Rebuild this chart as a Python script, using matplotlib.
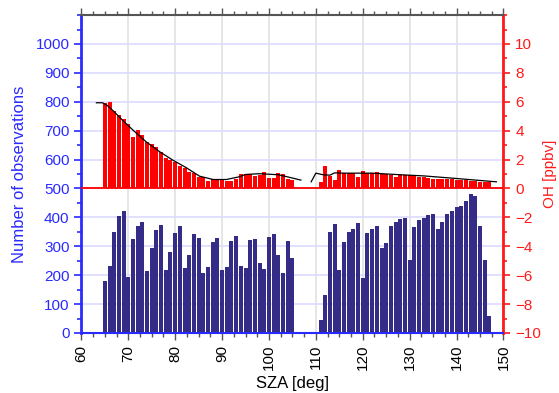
import numpy as np
import matplotlib
matplotlib.use("Agg")
import matplotlib.pyplot as plt
from matplotlib.ticker import MultipleLocator, FixedLocator

plt.rcParams['font.family'] = ['Liberation Sans', 'DejaVu Sans']

# SZA bins (deg), one bar per degree
sza = list(range(65, 148))

# number of observations per bin (zero where no data)
counts = [180, 232, 349, 405, 422, 194, 325, 370, 384, 215,
          294, 356, 374, 218, 280, 346, 370, 225, 270, 343,
          329, 208, 228, 315, 329, 218, 228, 318, 336, 232,
          225, 322, 325, 242, 221, 332, 343, 270, 208, 318,
          260, 0, 0, 0, 0, 0, 45, 131, 349, 377,
          218, 315, 349, 360, 381, 190, 346, 360, 370, 294,
          311, 370, 384, 394, 398, 253, 367, 391, 398, 408,
          412, 360, 384, 412, 422, 436, 439, 457, 481, 474,
          370, 253, 59]

# mean OH per bin (ppbv), nan where no data
nan = np.nan
oh = [5.93, 6.0, 5.37, 5.07, 4.78, 4.45, 3.55, 4.04, 3.69, 3.23,
      3.11, 2.88, 2.54, 2.08, 1.96, 1.85, 1.55, 1.45, 1.15, 1.08,
      0.76, 0.76, 0.53, 0.69, 0.69, 0.62, 0.53, 0.55, 0.68, 0.99,
      0.99, 0.99, 0.85, 0.92, 1.13, 0.72, 0.72, 1.06, 0.99, 0.65,
      0.58, nan, nan, nan, nan, nan, 0.44, 1.55, 0.85, 0.58,
      1.27, 1.06, 1.06, 1.06, 0.78, 1.2, 1.06, 1.06, 1.13, 0.99,
      0.99, 0.92, 0.78, 0.92, 0.92, 0.92, 0.85, 0.78, 0.78, 0.72,
      0.65, 0.65, 0.65, 0.65, 0.65, 0.58, 0.58, 0.58, 0.53, 0.53,
      0.46, 0.46, 0.46]

# smoothed OH curve, morning and evening branches
fit1_sza = [63.2, 64.5, 65.5, 66.8, 68.9, 71.0, 73.8, 76.7, 79.5, 82.3,
            85.2, 88.1, 90.9, 93.7, 95.0, 98.0, 102.0, 104.0, 106.8]
fit1_oh = [5.93, 5.93, 5.75, 5.37, 4.68, 4.04, 3.23, 2.54, 1.96, 1.45,
           0.85, 0.62, 0.62, 0.81, 0.97, 1.02, 0.95, 0.80, 0.58]
fit2_sza = [109.0, 110.0, 111.5, 113.0, 114.0, 116.0, 122.0, 128.0, 133.0, 140.0, 148.5]
fit2_oh = [0.46, 1.06, 0.95, 0.92, 1.08, 1.06, 1.06, 0.95, 0.87, 0.69, 0.46]

blue = '#2a2aff'
red = '#ff1a1a'

fig = plt.figure(figsize=(5.59, 3.93), dpi=100)
ax = fig.add_axes([0.1456, 0.1527, 0.755, 0.809])
ax2 = ax.twinx()

ax.set_axisbelow(True)
ax.bar(sza, counts, width=0.85, color='#342c86', zorder=2)
ax2.bar(sza, oh, width=0.85, color='#ff0000', zorder=2)
ax2.axhline(0, color='#ff0000', lw=1.3, zorder=3)
ax2.plot(fit1_sza, fit1_oh, color='black', lw=0.9, zorder=4)
ax2.plot(fit2_sza, fit2_oh, color='black', lw=0.9, zorder=4)

ax.set_xlim(60, 150)
ax.set_ylim(0, 1100)
ax2.set_ylim(-10, 12)

ax.xaxis.set_major_locator(MultipleLocator(10))
ax.xaxis.set_minor_locator(MultipleLocator(2.5))
ax.yaxis.set_major_locator(FixedLocator(list(range(0, 1001, 100))))
ax.yaxis.set_minor_locator(MultipleLocator(50))
ax2.yaxis.set_major_locator(FixedLocator(list(range(-10, 11, 2))))
ax2.yaxis.set_minor_locator(MultipleLocator(1))

ax.grid(axis='x', which='major', color='#e2e2e2', lw=1.2)
ax.grid(axis='y', which='major', color='#dcdcff', lw=1.2)

ax.tick_params(axis='x', which='both', top=True, direction='out', colors='#555555',
               labelcolor='black', labelsize=11, labelrotation=90)
ax.tick_params(axis='x', which='major', length=5, width=1)
ax.tick_params(axis='x', which='minor', length=3, width=1)
ax.tick_params(axis='y', which='both', colors=blue, labelsize=11)
ax.tick_params(axis='y', which='major', length=5, width=1.2)
ax.tick_params(axis='y', which='minor', length=3, width=1.2)
ax2.tick_params(axis='y', which='both', colors=red, labelsize=11)
ax2.tick_params(axis='y', which='major', length=5, width=1.2)
ax2.tick_params(axis='y', which='minor', length=3, width=1.2)

for s in ('left', 'right', 'top', 'bottom'):
    ax.spines[s].set_visible(False)
ax2.spines['left'].set_color(blue)
ax2.spines['left'].set_linewidth(2)
ax2.spines['bottom'].set_color(blue)
ax2.spines['bottom'].set_linewidth(1.5)
ax2.spines['right'].set_color(red)
ax2.spines['right'].set_linewidth(2)
ax2.spines['top'].set_color('#555555')
ax2.spines['top'].set_linewidth(1.5)

ax.set_xlabel('SZA [deg]', fontsize=12, labelpad=4)
ax.set_ylabel('Number of observations', color=blue, fontsize=12, labelpad=6)
ax2.set_ylabel('OH [ppbv]', color=red, fontsize=11, rotation=90, labelpad=0)
ax2.yaxis.set_label_coords(1.093, 0.5)

fig.savefig('out.png', dpi=100)
